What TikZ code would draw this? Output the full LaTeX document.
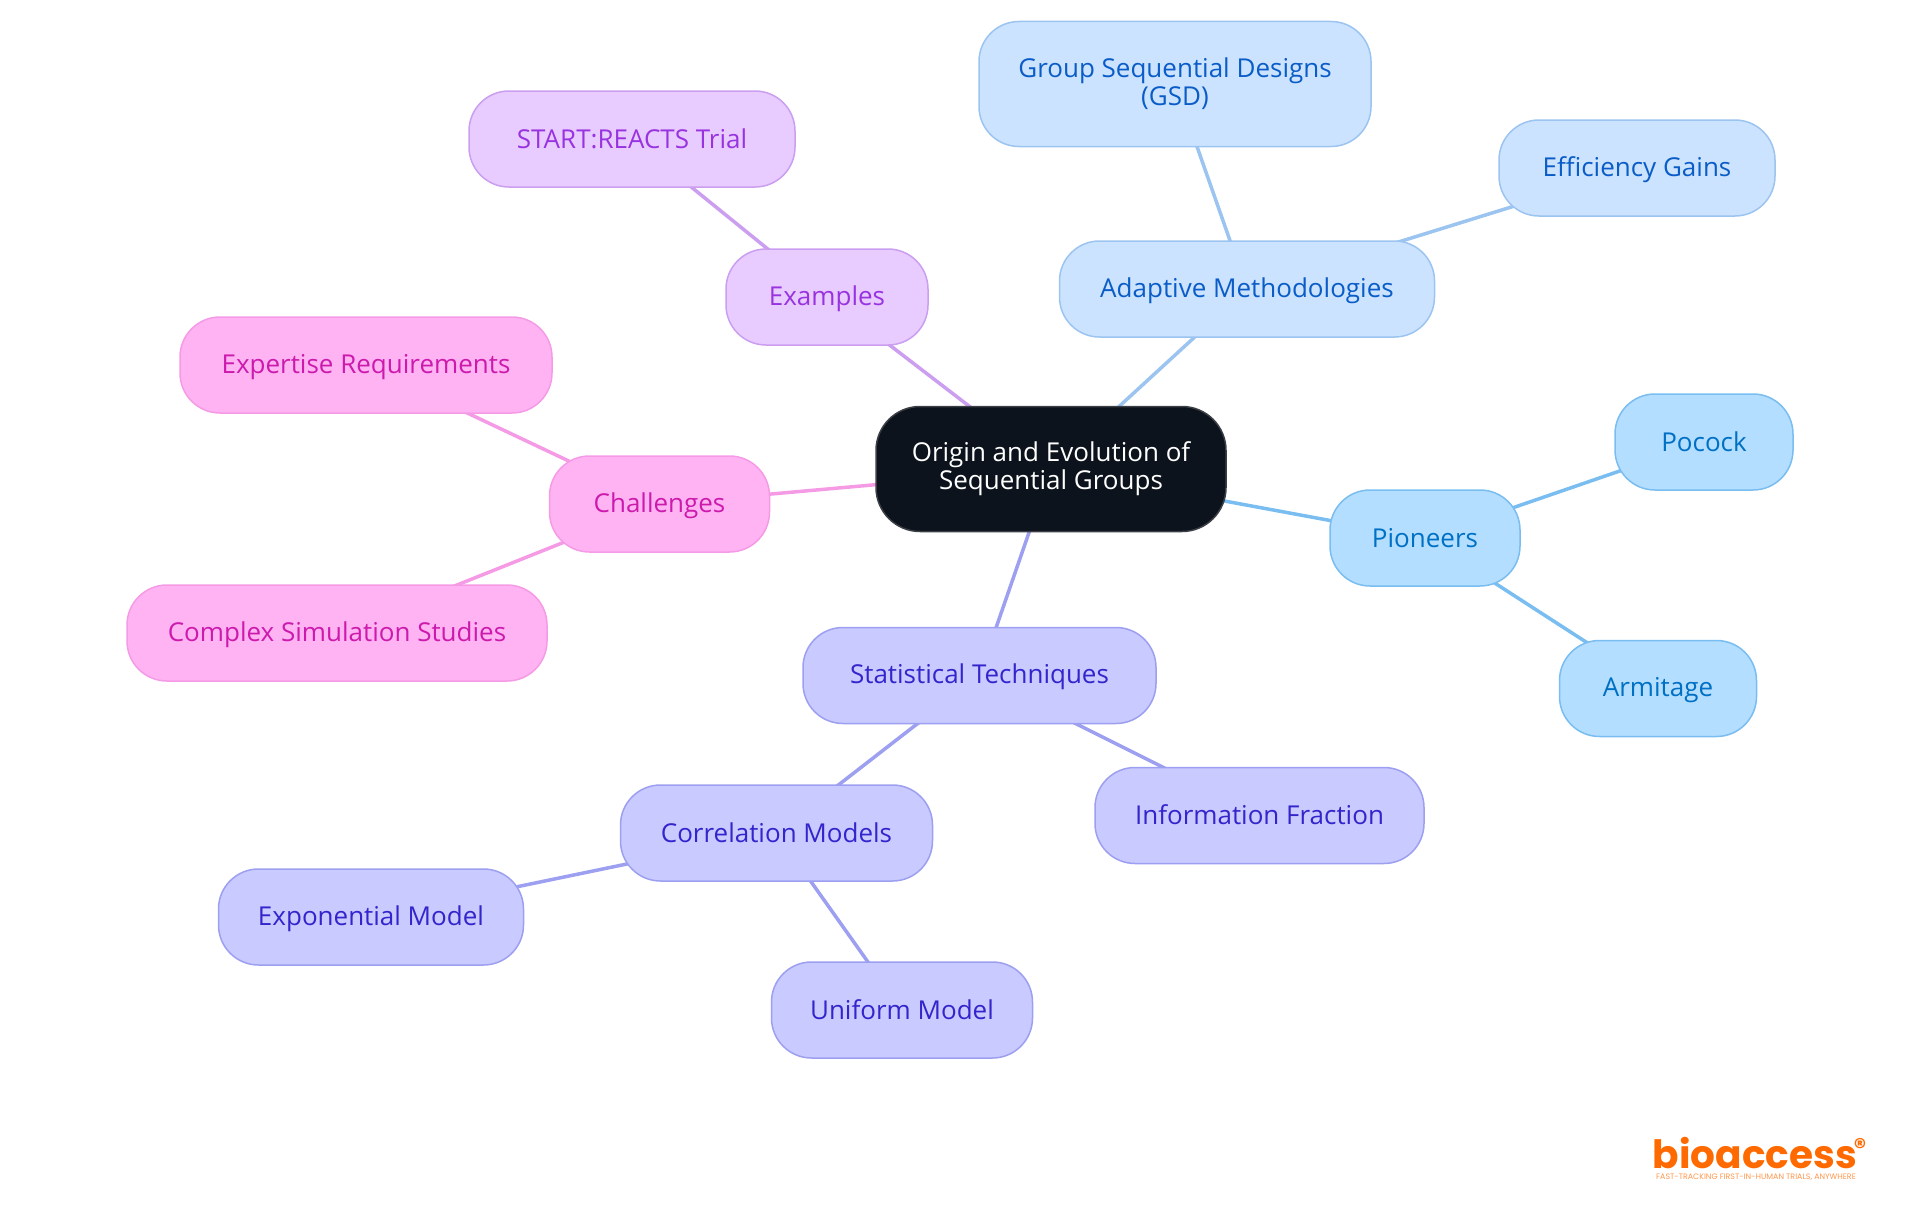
\documentclass[tikz,border=0pt]{standalone}
\usepackage{fontspec}
\setmainfont{Open Sans}
\newfontfamily\logofont{Poppins}
\usetikzlibrary{backgrounds}
\definecolor{rootfill}{HTML}{0C131C}
\definecolor{rootline}{HTML}{3C4046}
\definecolor{piofill}{HTML}{B3DEFF}
\definecolor{pioline}{HTML}{7ABDF0}
\definecolor{piotext}{HTML}{0070C4}
\definecolor{adafill}{HTML}{CCE3FF}
\definecolor{adaline}{HTML}{9CC4F0}
\definecolor{adatext}{HTML}{0A5CC7}
\definecolor{statfill}{HTML}{C9CAFF}
\definecolor{statline}{HTML}{9D9FF0}
\definecolor{stattext}{HTML}{3325CC}
\definecolor{exafill}{HTML}{E8CCFF}
\definecolor{exaline}{HTML}{CB9EF0}
\definecolor{exatext}{HTML}{9933E0}
\definecolor{chalfill}{HTML}{FFB3F3}
\definecolor{challine}{HTML}{F59BE6}
\definecolor{chaltext}{HTML}{CC1AAD}
\definecolor{logoorange}{HTML}{FF6A00}
\tikzset{
	treenode/.style = {
		align=center,
		inner sep=0pt,
		text centered,
		font=\fontsize{26}{28}\selectfont,
		execute at begin node={\rule[-5pt]{0pt}{28pt}},
		rounded corners=40pt,
		line width=1.5pt,
		minimum height=96pt
	},
	two_lines/.style = {
		minimum height=125pt,
		execute at begin node={\rule{0pt}{26pt}}
	},
	node_root/.style = {
		treenode,
		two_lines,
		execute at begin node={\rule{0pt}{29pt}},
		draw=rootline,
		fill=rootfill,
		text=white,
		rounded corners=44pt
	},
	node_pio/.style = {
		treenode,
		draw=pioline,
		fill=piofill,
		text=piotext
	},
	node_ada/.style = {
		treenode,
		draw=adaline,
		fill=adafill,
		text=adatext
	},
	node_stat/.style = {
		treenode,
		draw=statline,
		fill=statfill,
		text=stattext
	},
	node_exa/.style = {
		treenode,
		draw=exaline,
		fill=exafill,
		text=exatext
	},
	node_chal/.style = {
		treenode,
		draw=challine,
		fill=chalfill,
		text=chaltext
	},
	link/.style = {
		line width=3.5pt
	}
}

\begin{document}
\begin{tikzpicture}[x=1pt,y=-1pt]
\useasboundingbox (0,0) rectangle (1920,1215);
\node [node_root, minimum width=350pt] (root) at (1051,469) {Origin and Evolution of\\Sequential Groups};
% pioneers
\node [node_pio, minimum width=190pt] (pioneers) at (1425,538) {Pioneers};
\node [node_pio, minimum width=178pt] (pocock) at (1704,442) {Pocock};
\node [node_pio, minimum width=197pt] (armitage) at (1658,688.5) {Armitage};
% adaptive
\node [node_ada, minimum width=375pt] (adaptive) at (1247,289) {Adaptive Methodologies};
\node [node_ada, two_lines, minimum width=392pt] (gsd) at (1175,84) {Group Sequential Designs\\(GSD)};
\node [node_ada, minimum width=276pt] (efficiency) at (1637,168) {Efficiency Gains};
% statistical
\node [node_stat, minimum width=353pt] (statistical) at (979.5,675.5) {Statistical Techniques};
\node [node_stat, minimum width=312pt] (correlation) at (776.5,833) {Correlation Models};
\node [node_stat, minimum width=329pt] (information) at (1259.5,815.5) {Information Fraction};
\node [node_stat, minimum width=305pt] (exponential) at (371,917) {Exponential Model};
\node [node_stat, minimum width=261pt] (uniform) at (902,1010) {Uniform Model};
% examples
\node [node_exa, minimum width=202pt] (examples) at (827,297) {Examples};
\node [node_exa, minimum width=326pt] (startreacts) at (632,139) {START:REACTS Trial};
% challenges
\node [node_chal, minimum width=220pt] (challenges) at (659.5,504) {Challenges};
\node [node_chal, minimum width=372pt] (expertise) at (366,365) {Expertise Requirements};
\node [node_chal, minimum width=420pt] (complex) at (337,633) {Complex Simulation Studies};
% logo
\node [inner sep=0pt, anchor=base, text depth=0pt, text=logoorange, font=\logofont\bfseries\fontsize{39}{39}\selectfont] (logoname) at (1755,1168) {bioaccess};
\node [inner sep=0pt, text=logoorange, font=\logofont\bfseries\fontsize{24}{24}\selectfont] (logomark) at (1860,1147) {®};
\node [inner sep=0pt, anchor=base, text height=6pt, text depth=0pt, text=logoorange!70, font=\logofont\fontsize{7.9}{8}\selectfont] (logotag) at (1756,1179.5) {FAST-TRACKING FIRST-IN-HUMAN TRIALS, ANYWHERE};
\begin{scope}[on background layer]
\draw [link, pioline] (root.center) -- (pioneers.center);
\draw [link, pioline] (pioneers.center) -- (pocock.center);
\draw [link, pioline] (pioneers.center) -- (armitage.center);
\draw [link, adaline] (root.center) -- (adaptive.center);
\draw [link, adaline] (adaptive.center) -- (gsd.center);
\draw [link, adaline] (adaptive.center) -- (efficiency.center);
\draw [link, statline] (root.center) -- (statistical.center);
\draw [link, statline] (statistical.center) -- (correlation.center);
\draw [link, statline] (statistical.center) -- (information.center);
\draw [link, statline] (correlation.center) -- (exponential.center);
\draw [link, statline] (correlation.center) -- (uniform.center);
\draw [link, exaline] (root.center) -- (examples.center);
\draw [link, exaline] (examples.center) -- (startreacts.center);
\draw [link, challine] (root.center) -- (challenges.center);
\draw [link, challine] (challenges.center) -- (expertise.center);
\draw [link, challine] (challenges.center) -- (complex.center);
\end{scope}
\end{tikzpicture}
\end{document}
